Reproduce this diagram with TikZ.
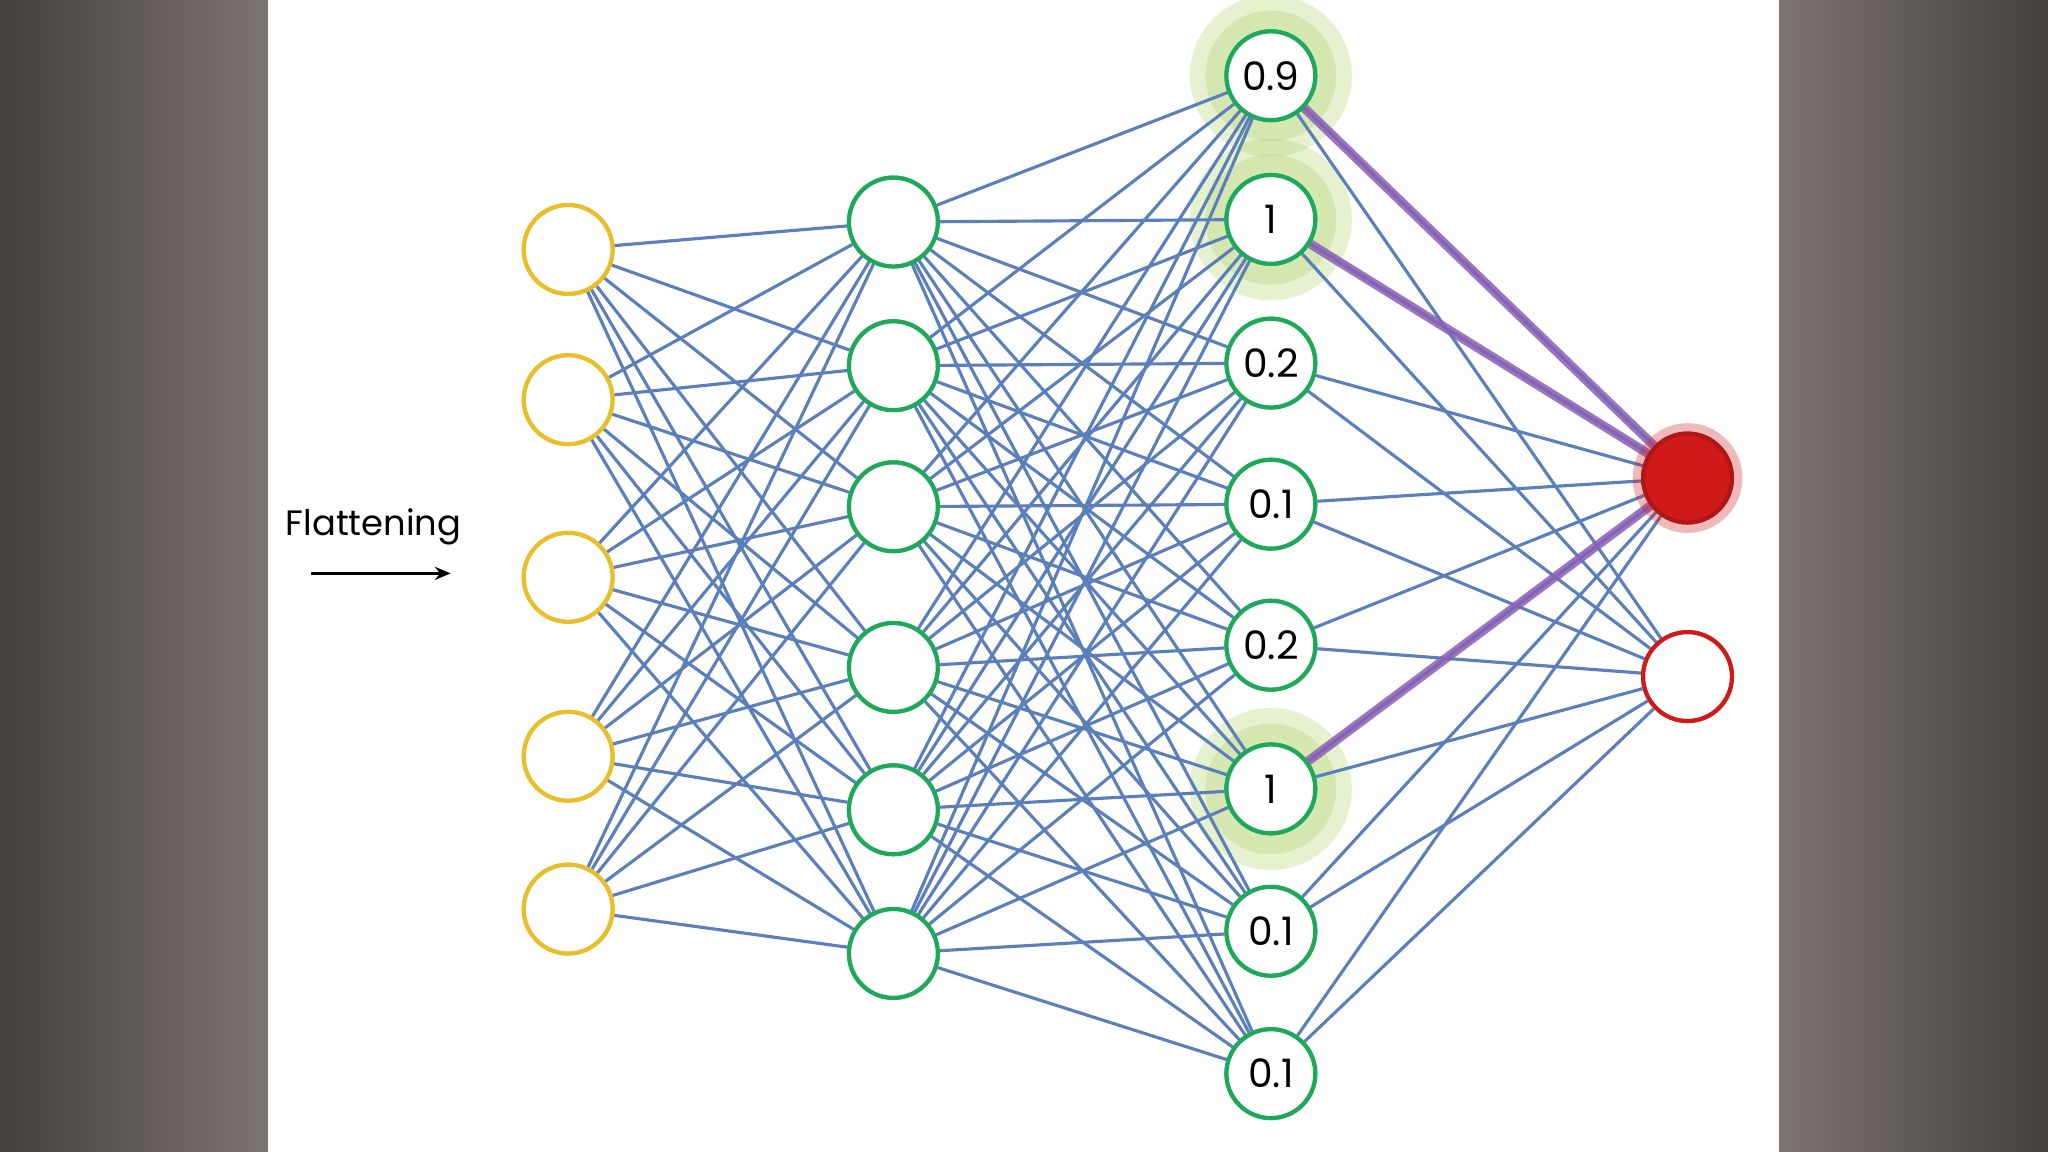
\documentclass[tikz,border=0pt]{standalone}
\usepackage{fontspec}
\setmainfont{Poppins}
\usetikzlibrary{arrows.meta}
\definecolor{edge}{HTML}{5A7FBA}
\definecolor{ylw}{HTML}{E8BE2A}
\definecolor{grn}{HTML}{1EA85A}
\definecolor{rd}{HTML}{D01A1A}
\definecolor{bgA}{HTML}{45403D}
\definecolor{bgB}{HTML}{7C7572}
\definecolor{glow}{HTML}{B8D77A}
\definecolor{purp}{HTML}{8A5FB5}
\tikzset{
  neuron/.style={circle,minimum size=68pt,inner sep=0pt,line width=3.2pt,fill=white,font=\fontsize{30}{30}\selectfont},
  inn/.style={neuron,draw=ylw},
  hid/.style={neuron,draw=grn},
  outn/.style={neuron,draw=rd},
  conn/.style={edge,line width=2.4pt},
  hl/.style={purp,line width=7pt,opacity=0.85}
}
\begin{document}
\begin{tikzpicture}[x=1pt,y=-1pt]
\useasboundingbox (0,0) rectangle (1568,882);
\shade[left color=bgA,right color=bgB] (0,0) rectangle (205,882);
\shade[left color=bgB,right color=bgA] (1362,0) rectangle (1568,882);
\fill[white] (205,0) rectangle (1362,882);
% glows
\foreach \y in {58,168,604}{
  \fill[glow,opacity=0.35] (973,\y) circle (62pt);
  \fill[glow,opacity=0.35] (973,\y) circle (50pt);
}
% nodes
\foreach \y [count=\i] in {191,306,442,579,696} \node[inn] (a\i) at (435,\y) {};
\foreach \y [count=\i] in {170,280,388,511,620,730} \node[hid] (b\i) at (684,\y) {};
\foreach \y/\t [count=\i] in {58/0.9,168/1,278/0.2,386/0.1,494/0.2,604/1,713/0.1,822/0.1} \node[hid] (c\i) at (973,\y) {\t};
\node[outn,fill=rd,draw=rd!85!black] (o1) at (1292,366) {};
\node[outn] (o2) at (1292,518) {};
% edges
\begin{scope}[on background layer/.style={}]
\foreach \i in {1,...,5}\foreach \j in {1,...,6} \draw[conn] (a\i) -- (b\j);
\foreach \i in {1,...,6}\foreach \j in {1,...,8} \draw[conn] (b\i) -- (c\j);
\foreach \i in {1,...,8}\foreach \j in {1,2} \draw[conn] (c\i) -- (o\j);
\draw[hl] (c1) -- (o1);
\draw[hl] (c2) -- (o1);
\draw[hl] (c6) -- (o1);
\end{scope}
% redraw nodes on top
\foreach \y [count=\i] in {191,306,442,579,696} \node[inn] at (435,\y) {};
\foreach \y [count=\i] in {170,280,388,511,620,730} \node[hid] at (684,\y) {};
\foreach \y/\t [count=\i] in {58/0.9,168/1,278/0.2,386/0.1,494/0.2,604/1,713/0.1,822/0.1} \node[hid] at (973,\y) {\t};
\fill[rd,opacity=0.3] (1292,366) circle (42pt);
\node[outn,fill=rd,draw=rd!85!black] at (1292,366) {};
\node[outn] at (1292,518) {};
% label
\node[font=\fontsize{27}{27}\selectfont] (fl) at (286,403) {Flattening};
\coordinate (s) at (238,439);
\coordinate (e) at (345,439);
\draw[line width=2.2pt,-{Stealth[length=12pt,width=10pt]}] (s) -- (e);
\end{tikzpicture}
\end{document}
